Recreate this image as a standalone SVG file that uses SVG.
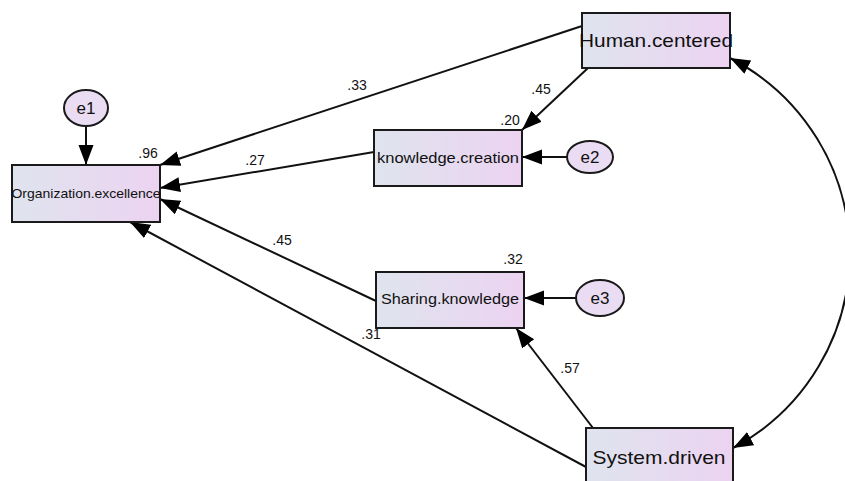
<svg xmlns="http://www.w3.org/2000/svg" width="845" height="481" viewBox="0 0 845 481">
<defs>
<linearGradient id="g" x1="0" y1="0" x2="1" y2="0">
<stop offset="0" stop-color="#dfe4ee"/>
<stop offset="1" stop-color="#ecd3f1"/>
</linearGradient>
<marker id="arr" markerUnits="userSpaceOnUse" markerWidth="22" markerHeight="16" refX="20" refY="7.5" orient="auto-start-reverse">
<path d="M0,0 L20,7.5 L0,15 z" fill="#000"/>
</marker>
<style>
.box{fill:url(#g);stroke:#1a1a1a;stroke-width:2}
.ell{fill:#eadcf2;stroke:#1a1a1a;stroke-width:2}
.ln{fill:none;stroke:#111;stroke-width:2;marker-end:url(#arr)}
text{font-family:"Liberation Sans",Arial,sans-serif;fill:#111}
.lbl{font-size:14px;text-anchor:middle}
.nm{text-anchor:middle}
</style>
</defs>
<rect width="845" height="481" fill="#fff"/>
<g id="connectors">
<line class="ln" x1="86" y1="126" x2="86" y2="165"/>
<line class="ln" x1="582" y1="26" x2="160" y2="165"/>
<line class="ln" x1="588" y1="68" x2="522" y2="130"/>
<line class="ln" x1="374" y1="152" x2="160" y2="188"/>
<line class="ln" x1="567" y1="157" x2="522" y2="157"/>
<line class="ln" x1="376" y1="301" x2="160" y2="199"/>
<line class="ln" x1="576" y1="298" x2="524" y2="298"/>
<line class="ln" x1="586" y1="467" x2="130" y2="222"/>
<line class="ln" x1="593" y1="428" x2="516" y2="328"/>
<path class="ln" style="marker-start:url(#arr)" d="M730,58 A220,220 0 0 1 733,448"/>
<text class="lbl" x="357" y="90">.33</text>
<text class="lbl" x="541" y="94">.45</text>
<text class="lbl" x="255" y="165">.27</text>
<text class="lbl" x="282" y="245">.45</text>
<text class="lbl" x="371" y="339">.31</text>
<text class="lbl" x="570" y="373">.57</text>
</g>
<g id="e1">
<ellipse class="ell" cx="86" cy="108" rx="22" ry="18"/>
<text class="nm" x="86" y="114" font-size="17">e1</text>
</g>
<g id="Organization.excellence">
<rect class="box" x="12" y="165" width="148" height="57"/>
<text class="nm" x="86" y="198" font-size="13" textLength="149" lengthAdjust="spacingAndGlyphs">Organization.excellence</text>
<text class="lbl" x="148" y="158">.96</text>
</g>
<g id="knowledge.creation">
<rect class="box" x="374" y="130" width="148" height="56"/>
<text class="nm" x="448" y="163" font-size="14.5" textLength="142" lengthAdjust="spacingAndGlyphs">knowledge.creation</text>
<text class="lbl" x="510" y="125">.20</text>
</g>
<g id="e2">
<ellipse class="ell" cx="590" cy="157" rx="23" ry="16"/>
<text class="nm" x="590" y="163" font-size="17">e2</text>
</g>
<g id="Sharing.knowledge">
<rect class="box" x="376" y="272" width="148" height="56"/>
<text class="nm" x="450" y="304" font-size="14.5" textLength="138" lengthAdjust="spacingAndGlyphs">Sharing.knowledge</text>
<text class="lbl" x="513" y="264">.32</text>
</g>
<g id="e3">
<ellipse class="ell" cx="600" cy="298" rx="24" ry="18"/>
<text class="nm" x="600" y="304" font-size="17">e3</text>
</g>
<g id="Human.centered">
<rect class="box" x="582" y="13" width="148" height="55"/>
<text class="nm" x="656" y="47" font-size="19" textLength="154" lengthAdjust="spacingAndGlyphs">Human.centered</text>
</g>
<g id="System.driven">
<rect class="box" x="586" y="428" width="147" height="56"/>
<text class="nm" x="659" y="464" font-size="19" textLength="133" lengthAdjust="spacingAndGlyphs">System.driven</text>
</g>
</svg>
